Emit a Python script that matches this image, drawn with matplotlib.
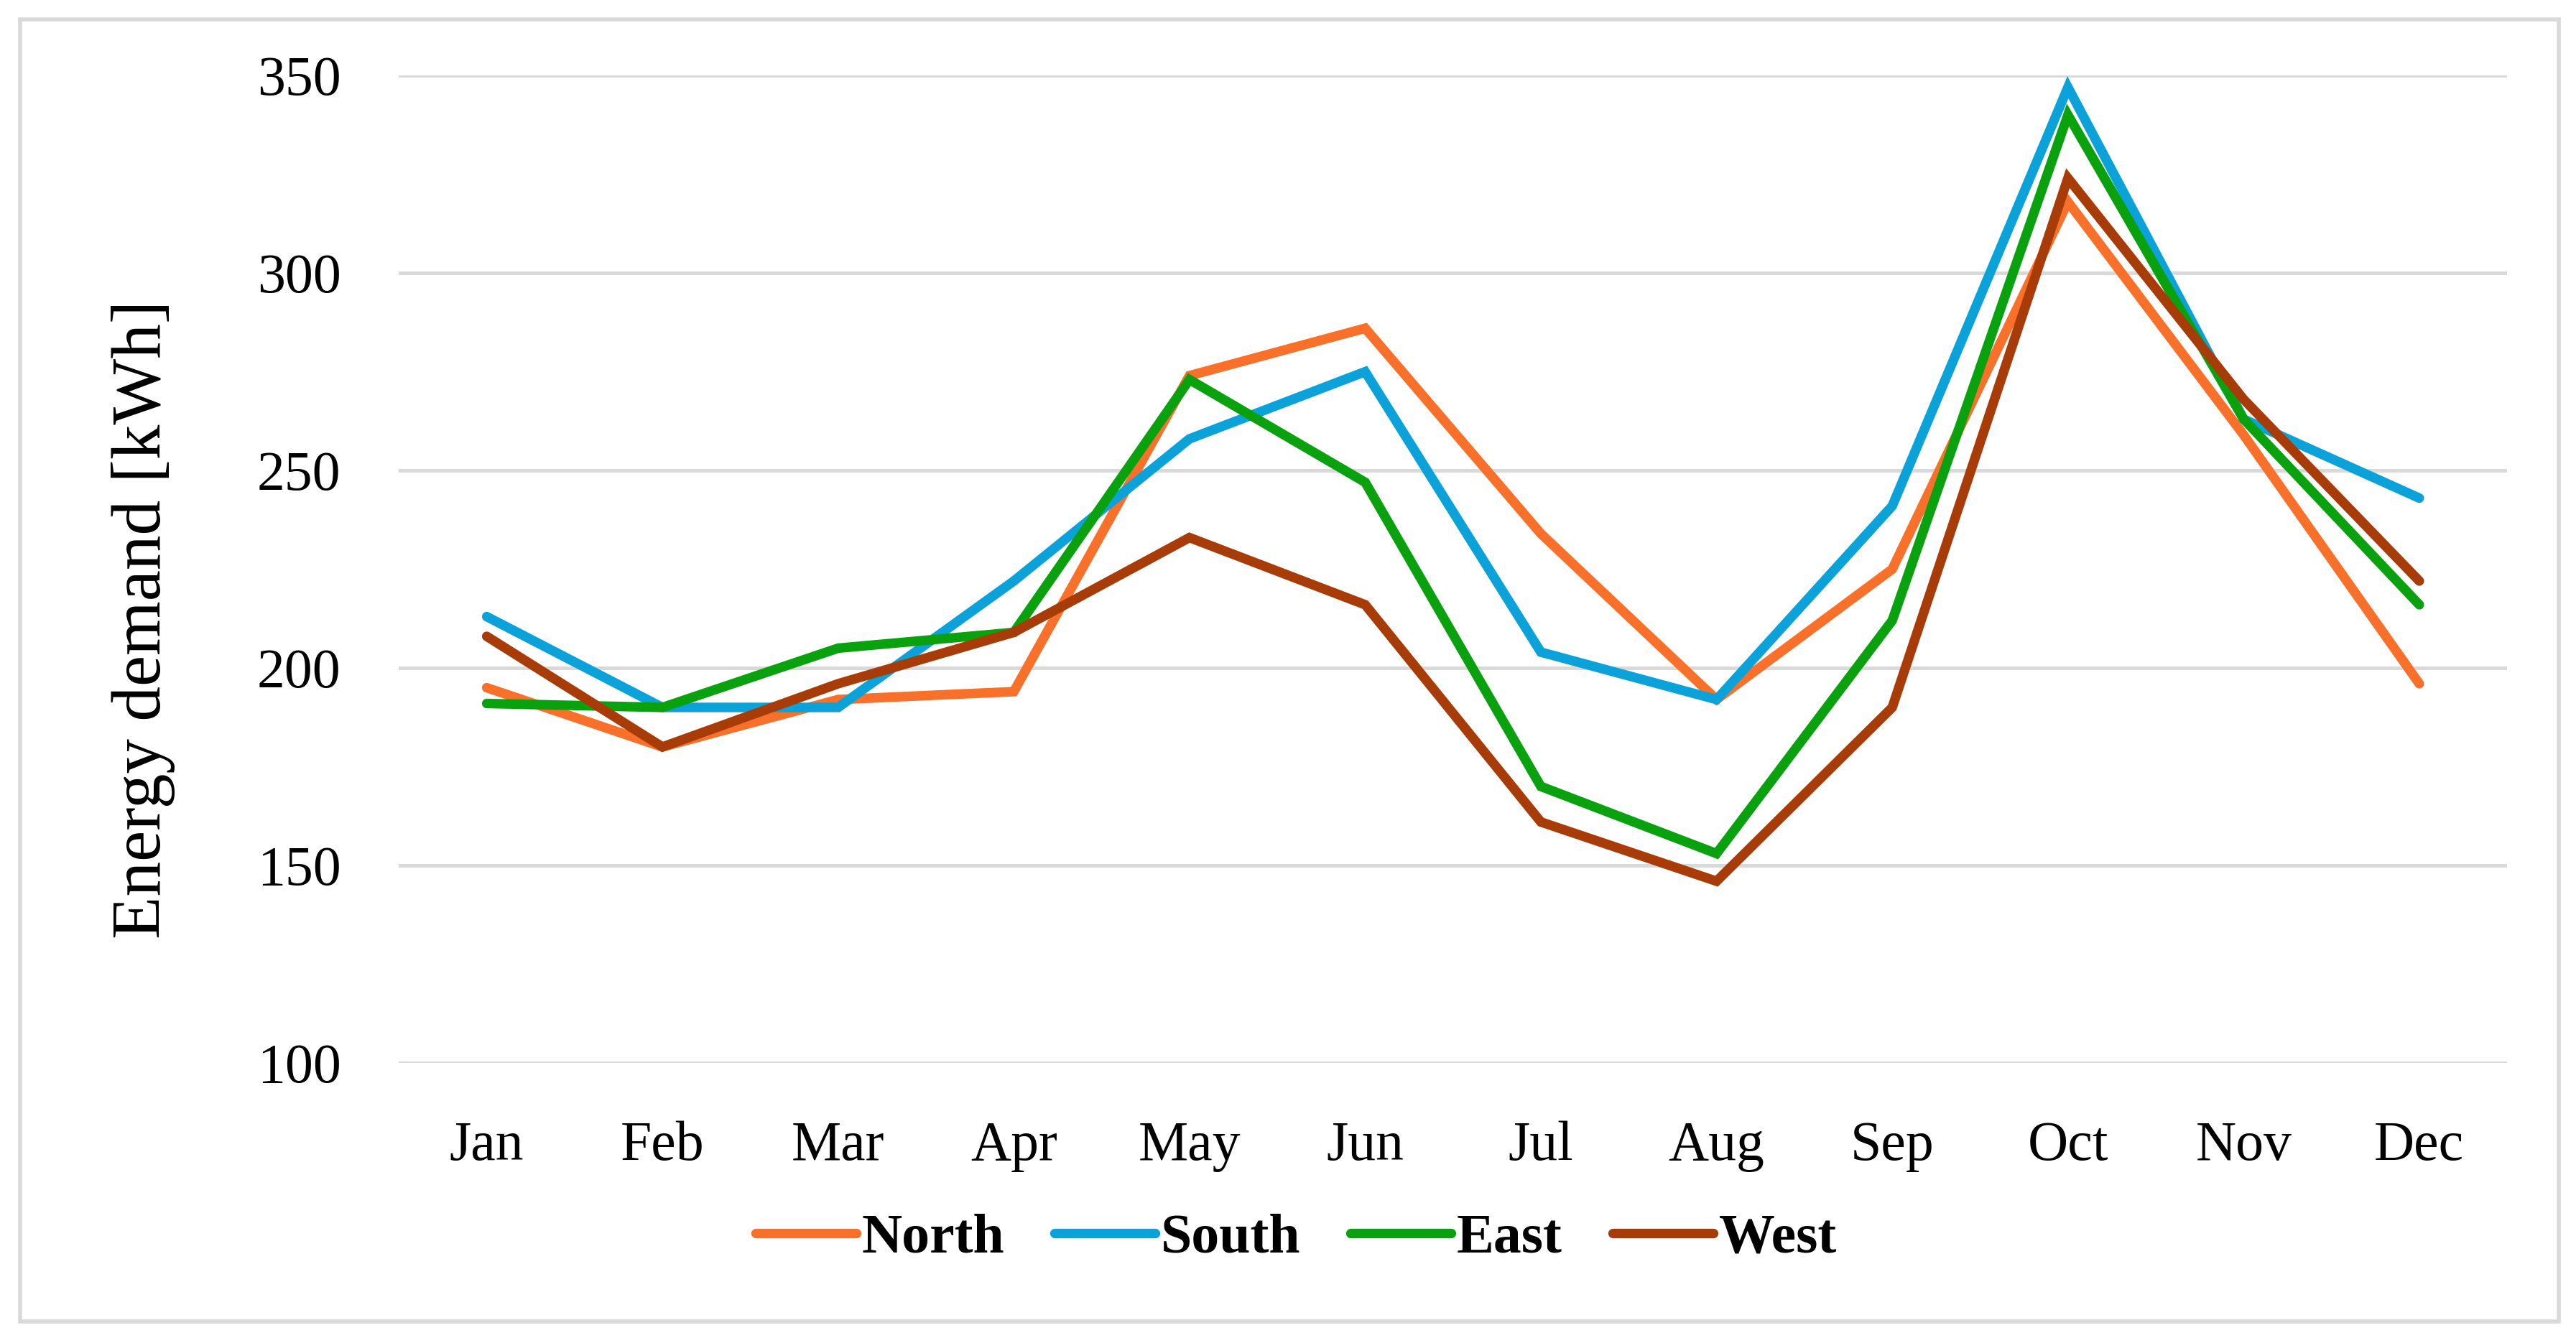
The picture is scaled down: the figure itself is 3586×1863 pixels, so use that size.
import matplotlib
matplotlib.use("Agg")
import matplotlib.pyplot as plt
from matplotlib.patches import Rectangle

months = ["Jan", "Feb", "Mar", "Apr", "May", "Jun", "Jul", "Aug", "Sep", "Oct", "Nov", "Dec"]

north = [195, 180, 192, 194, 274, 286, 234, 192, 225, 318, 259, 196]
south = [213, 190, 190, 222, 258, 275, 204, 192, 241, 347, 263, 243]
east = [191, 190, 205, 209, 273, 247, 170, 153, 212, 340, 263, 216]
west = [208, 180, 196, 209, 233, 216, 161, 146, 190, 324, 268, 222]

series_names = ["North", "South", "East", "West"]
colors = ["#F8702A", "#0AA2D8", "#0AA10E", "#A83C08"]

plt.rcParams['font.family'] = ['Liberation Serif', 'DejaVu Serif']

fig = plt.figure(figsize=(17.935, 9.315), dpi=200)
ax = fig.add_axes([0.1548, 0.2056, 0.973 - 0.1548, 0.9436 - 0.2056])

x = list(range(len(months)))
for vals, name, c in zip([north, south, east, west], series_names, colors):
    ax.plot(x, vals, color=c, lw=4.8, label=name, solid_joinstyle='miter', solid_capstyle='round')

ax.set_xlim(-0.5, 11.5)
ax.set_ylim(100, 350)
ax.set_yticks([100, 150, 200, 250, 300, 350])
ax.set_xticks(x)
ax.set_xticklabels(months)
ax.grid(axis='y', color='#D9D9D9', lw=1.8)
ax.set_axisbelow(True)
for s in ax.spines.values():
    s.set_visible(False)
ax.tick_params(axis='both', length=0, labelsize=28)
ax.tick_params(axis='y', pad=29)
ax.tick_params(axis='x', pad=29)

fig.text(0.0557, 0.537, "Energy demand [kWh]", rotation=90, ha='center', va='center', fontsize=35)

leg = fig.legend(loc='center', bbox_to_anchor=(0.503, 0.074), ncol=4, frameon=False,
                 prop={'weight': 'bold', 'size': 28}, handlelength=1.8, handletextpad=0.1,
                 columnspacing=0.9)

fig.patches.append(Rectangle((0.0078, 0.0123), 0.993 - 0.0078, 0.9855 - 0.0123,
                             transform=fig.transFigure, fill=False, edgecolor='#D9D9D9', lw=2))

fig.savefig("out.png", dpi=200)
